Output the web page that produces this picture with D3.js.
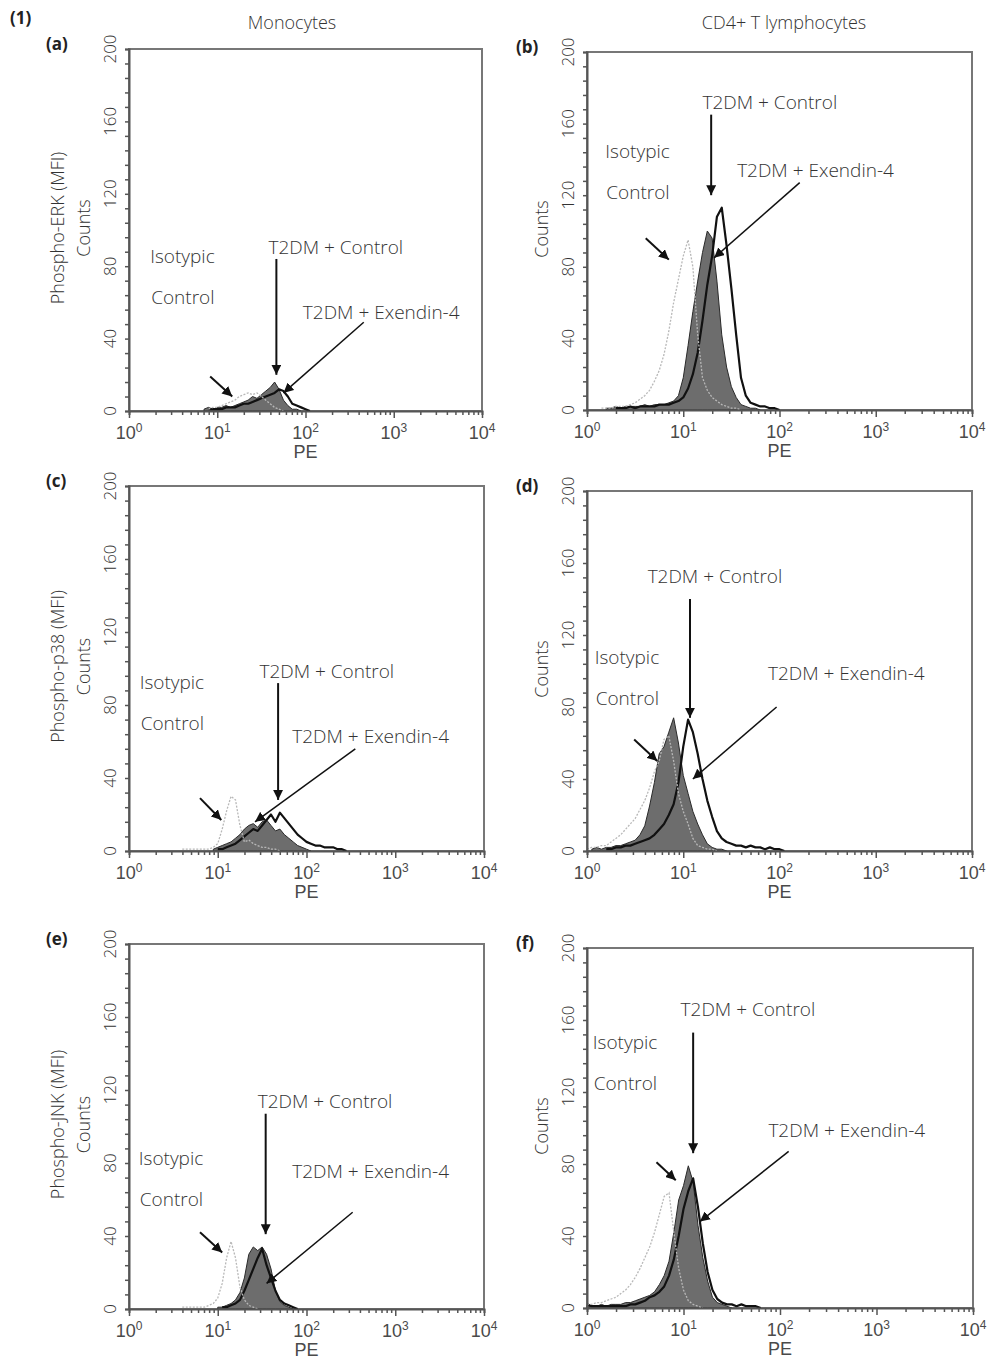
<!DOCTYPE html>
<html>
<head>
<meta charset="utf-8">
<script src="https://cdn.jsdelivr.net/npm/d3@7/dist/d3.min.js"></script>
<style>
  body { margin: 0; background: #fff; }
  text { font-family: "Open Sans", "DejaVu Sans", sans-serif; font-weight: 300; fill: #333; }
  text.bold { font-weight: bold; fill: #222; }
  text.axlab { font-family: "Liberation Sans", Arial, sans-serif; font-weight: normal; fill: #4a4a4a; }
</style>
</head>
<body>
<svg id="chart" width="987" height="1360"></svg>
<script>
// histogram bins are 0.05 decade wide; each series = first bin exponent + counts
const binStep = 0.05;
const decades = [0, 1, 2, 3, 4];
const countLabels = [0, 40, 80, 120, 160, 200];
const columnTitles = ["Monocytes", "CD4+ T lymphocytes"];
const rowTitles = ["Phospho-ERK (MFI)", "Phospho-p38 (MFI)", "Phospho-JNK (MFI)"];
const panelLetters = ["(a)", "(b)", "(c)", "(d)", "(e)", "(f)"];

// (a) monocytes, ERK
const isoA0 = 0.9;
const isoA = [1, 2, 2, 3, 4, 5, 6, 8, 9, 10, 9, 10, 8, 6, 4, 2, 1, 0];
const ctrlA0 = 0.85;
const ctrlA = [1, 2, 1, 2, 2, 3, 2, 3, 4, 5, 6, 8, 7, 9, 11, 13, 16, 12, 6, 3, 1, 1, 0];
const exA0 = 0.9;
const exA = [1, 1, 1, 1, 2, 2, 2, 3, 4, 4, 5, 6, 7, 8, 9, 10, 12, 11, 8, 4, 3, 2, 1, 0];

// (b) CD4+ T, ERK
const isoB0 = 0.15;
const isoB = [1, 1, 1, 2, 2, 2, 3, 4, 6, 8, 11, 16, 22, 31, 44, 60, 73, 86, 95, 80, 42, 18, 11, 7, 5, 3, 2, 1, 1, 0];
const ctrlB0 = 0.2;
const ctrlB = [1, 1, 2, 1, 2, 2, 2, 2, 3, 2, 3, 3, 3, 4, 5, 8, 18, 36, 55, 72, 88, 100, 96, 72, 42, 24, 13, 7, 3, 2, 1, 1, 0];
const exB0 = 0.3;
const exB = [1, 1, 1, 2, 1, 2, 2, 2, 2, 3, 3, 3, 4, 5, 7, 12, 20, 32, 50, 70, 86, 108, 113, 92, 68, 42, 18, 8, 4, 3, 2, 2, 1, 1, 0];

// (c) monocytes, p38
const isoC0 = 0.6;
const isoC = [1, 1, 1, 1, 1, 1, 1, 2, 4, 12, 22, 30, 28, 14, 5, 6, 4, 3, 2, 2, 1, 1, 0];
const ctrlC0 = 0.95;
const ctrlC = [1, 2, 3, 4, 5, 7, 9, 12, 14, 15, 13, 16, 17, 14, 11, 12, 9, 7, 5, 3, 2, 1, 0];
const exC0 = 1.0;
const exC = [1, 1, 2, 3, 4, 6, 8, 10, 12, 11, 14, 17, 20, 16, 21, 18, 15, 12, 9, 7, 5, 4, 3, 3, 2, 2, 2, 1, 1, 0];

// (d) CD4+ T, p38
const isoD0 = 0.0;
const isoD = [1, 2, 2, 3, 3, 5, 7, 9, 12, 15, 18, 23, 28, 35, 44, 50, 62, 64, 50, 32, 22, 15, 7, 3, 2, 1, 1, 0];
const ctrlD0 = 0.05;
const ctrlD = [1, 2, 1, 2, 2, 3, 3, 4, 5, 6, 9, 14, 25, 38, 54, 58, 66, 74, 60, 42, 32, 22, 15, 9, 4, 2, 1, 1, 0];
const exD0 = 0.2;
const exD = [1, 1, 2, 2, 3, 3, 4, 5, 6, 7, 9, 12, 15, 20, 26, 38, 58, 73, 66, 54, 40, 28, 19, 11, 7, 5, 4, 3, 3, 2, 3, 2, 2, 1, 2, 1, 1, 0];

// (e) monocytes, JNK
const isoE0 = 0.6;
const isoE = [1, 1, 1, 1, 1, 1, 2, 3, 6, 14, 28, 37, 28, 12, 5, 2, 1, 0];
const ctrlE0 = 1.0;
const ctrlE = [1, 1, 2, 3, 5, 9, 17, 30, 34, 32, 34, 30, 22, 10, 4, 2, 1, 0];
const exE0 = 1.05;
const exE = [1, 1, 2, 3, 5, 10, 16, 22, 28, 33, 24, 17, 10, 5, 3, 2, 1, 0];

// (f) CD4+ T, JNK
const isoF0 = 0.0;
const isoF = [2, 2, 3, 3, 4, 5, 6, 8, 10, 13, 17, 22, 28, 34, 42, 52, 62, 64, 42, 22, 10, 4, 2, 1, 0];
const ctrlF0 = 0.0;
const ctrlF = [1, 1, 1, 2, 1, 2, 2, 2, 3, 3, 4, 5, 6, 7, 9, 13, 18, 26, 42, 60, 68, 79, 70, 46, 28, 15, 6, 3, 2, 1, 0];
const exF0 = 0.0;
const exF = [2, 1, 1, 1, 1, 1, 1, 1, 1, 2, 2, 3, 4, 6, 7, 9, 12, 18, 27, 40, 55, 65, 72, 56, 36, 20, 10, 5, 3, 2, 2, 1, 2, 1, 1, 1, 0];

// annotation anchors in data space: [log10 PE, count]
const notesA = { iso: [0.24, 82], ctrl: [1.58, 87], ctrlArrow: [[1.67, 84], [1.67, 20]], ex: [1.97, 51], exArrow: [[2.66, 49], [1.75, 10]], isoArrow: [[0.92, 19], [1.17, 8]] };
const notesB = { iso: [0.19, 141], ctrl: [1.20, 168], ctrlArrow: [[1.29, 165], [1.29, 120]], ex: [1.56, 130], exArrow: [[2.21, 127], [1.32, 85]], isoArrow: [[0.61, 96], [0.85, 84]] };
const notesC = { iso: [0.12, 89], ctrl: [1.47, 95], ctrlArrow: [[1.68, 92], [1.68, 28]], ex: [1.84, 59], exArrow: [[2.55, 56], [1.42, 16]], isoArrow: [[0.80, 29], [1.04, 17]] };
const notesD = { iso: [0.08, 104], ctrl: [0.63, 149], ctrlArrow: [[1.07, 140], [1.07, 74]], ex: [1.88, 95], exArrow: [[1.97, 80], [1.10, 40]], isoArrow: [[0.49, 62], [0.73, 50]] };
const notesE = { iso: [0.11, 79], ctrl: [1.45, 110], ctrlArrow: [[1.54, 107], [1.54, 41]], ex: [1.84, 72], exArrow: [[2.52, 53], [1.55, 14]], isoArrow: [[0.80, 42], [1.05, 31]] };
const notesF = { iso: [0.06, 144], ctrl: [0.97, 162], ctrlArrow: [[1.10, 153], [1.10, 86]], ex: [1.88, 95], exArrow: [[2.09, 87], [1.17, 48]], isoArrow: [[0.72, 81], [0.92, 71]] };

const panels = [
  { iso: [isoA0, isoA], ctrl: [ctrlA0, ctrlA], ex: [exA0, exA], notes: notesA, xr: [129, 482], yr: [411, 49], col: 0, row: 0 },
  { iso: [isoB0, isoB], ctrl: [ctrlB0, ctrlB], ex: [exB0, exB], notes: notesB, xr: [587, 972], yr: [410, 52], col: 1, row: 0 },
  { iso: [isoC0, isoC], ctrl: [ctrlC0, ctrlC], ex: [exC0, exC], notes: notesC, xr: [129, 484], yr: [851, 486], col: 0, row: 1 },
  { iso: [isoD0, isoD], ctrl: [ctrlD0, ctrlD], ex: [exD0, exD], notes: notesD, xr: [587, 972], yr: [851, 491], col: 1, row: 1 },
  { iso: [isoE0, isoE], ctrl: [ctrlE0, ctrlE], ex: [exE0, exE], notes: notesE, xr: [129, 484], yr: [1309, 944], col: 0, row: 2 },
  { iso: [isoF0, isoF], ctrl: [ctrlF0, ctrlF], ex: [exF0, exF], notes: notesF, xr: [587, 973], yr: [1308, 948], col: 1, row: 2 }
];

const svg = d3.select("#chart");

const defs = svg.append("defs");
defs.append("marker")
  .attr("id", "head")
  .attr("viewBox", "0 0 10 10")
  .attr("refX", 10).attr("refY", 5)
  .attr("markerWidth", 10).attr("markerHeight", 10)
  .attr("markerUnits", "userSpaceOnUse")
  .attr("orient", "auto")
  .append("path")
  .attr("d", "M0,0 L10,5 L0,10 Z")
  .attr("fill", "#111");

// figure header
svg.append("text").attr("class", "bold").attr("x", 10).attr("y", 24)
  .attr("font-size", 17)
  .text("(1)");
svg.append("text").attr("x", 292).attr("y", 29).attr("text-anchor", "middle")
  .attr("font-size", 18).text(columnTitles[0]);
svg.append("text").attr("x", 784).attr("y", 29).attr("text-anchor", "middle")
  .attr("font-size", 18).text(columnTitles[1]);

const toPoints = (s) => s[1].map((c, i) => ({ e: s[0] + i * binStep, c: c }));

panels.forEach((p, idx) => {
  const g = svg.append("g");
  const x = d3.scaleLog().domain([1, 10000]).range(p.xr);
  const y = d3.scaleLinear().domain([0, 200]).range(p.yr);
  const px = (pt) => x(Math.pow(10, pt[0]));
  const py = (pt) => y(pt[1]);

  // frame (top + right)
  g.append("rect")
    .attr("x", p.xr[0]).attr("y", p.yr[1])
    .attr("width", p.xr[1] - p.xr[0]).attr("height", p.yr[0] - p.yr[1])
    .attr("fill", "none").attr("stroke", "#777").attr("stroke-width", 2);

  // histograms
  const area = d3.area()
    .x(d => x(Math.pow(10, d.e)))
    .y0(y(0))
    .y1(d => y(d.c));
  const line = d3.line()
    .x(d => x(Math.pow(10, d.e)))
    .y(d => y(d.c));

  g.append("path").datum(toPoints(p.ctrl))
    .attr("d", area)
    .attr("fill", "#6d6d6d").attr("stroke", "#2a2a2a").attr("stroke-width", 1);
  g.append("path").datum(toPoints(p.ex))
    .attr("d", line)
    .attr("fill", "none").attr("stroke", "#111").attr("stroke-width", 2.2)
    .attr("stroke-linejoin", "round");
  g.append("path").datum(toPoints(p.iso))
    .attr("d", line)
    .attr("fill", "none").attr("stroke", "#b8b8b8").attr("stroke-width", 1.3)
    .attr("stroke-dasharray", "2,1.5");

  // axes
  const xAxis = d3.axisBottom(x)
    .tickValues(x.ticks())
    .tickSize(4)
    .tickFormat("");
  const xg = g.append("g")
    .attr("transform", `translate(0,${p.yr[0]})`)
    .call(xAxis);
  xg.select(".domain").attr("stroke", "#555").attr("stroke-width", 2);
  xg.selectAll(".tick line").attr("stroke", "#555").attr("stroke-width", 1.5)
    .attr("y2", d => decades.includes(Math.round(Math.log10(d) * 1000) / 1000) ? 7 : 4);

  const yAxis = d3.axisLeft(y)
    .tickValues(d3.range(0, 201, 8))
    .tickSize(4)
    .tickFormat("");
  const yg = g.append("g")
    .attr("transform", `translate(${p.xr[0]},0)`)
    .call(yAxis);
  yg.select(".domain").attr("stroke", "#555").attr("stroke-width", 2);
  yg.selectAll(".tick line").attr("stroke", "#555").attr("stroke-width", 1.5);

  // count labels (rotated)
  g.selectAll(".ylab").data(countLabels).enter()
    .append("text")
    .attr("transform", d => `translate(${p.xr[0] - 13},${y(d)}) rotate(-90)`)
    .attr("text-anchor", "middle")
    .attr("font-size", 17)
    .text(d => d);

  // decade labels 10^n
  const dl = g.selectAll(".xlab").data(decades).enter()
    .append("text")
    .attr("class", "axlab")
    .attr("x", d => x(Math.pow(10, d)))
    .attr("y", p.yr[0] + 28)
    .attr("text-anchor", "middle")
    .attr("font-size", 18);
  dl.append("tspan").text("10");
  dl.append("tspan").attr("dy", -7).attr("font-size", 12).text(d => d);

  g.append("text")
    .attr("class", "axlab")
    .attr("x", x(100)).attr("y", p.yr[0] + 47)
    .attr("text-anchor", "middle").attr("font-size", 18)
    .text("PE");

  // axis titles
  const midY = (p.yr[0] + p.yr[1]) / 2 - 2;
  g.append("text")
    .attr("transform", `translate(${p.xr[0] - 39},${midY}) rotate(-90)`)
    .attr("text-anchor", "middle").attr("font-size", 18)
    .text("Counts");
  if (p.col === 0) {
    g.append("text")
      .attr("transform", `translate(${p.xr[0] - 65},${midY}) rotate(-90)`)
      .attr("text-anchor", "middle").attr("font-size", 18)
      .text(rowTitles[p.row]);
  }

  // panel letter
  g.append("text").attr("class", "bold")
    .attr("x", p.col === 0 ? 46 : 516).attr("y", p.yr[1] + 1)
    .attr("font-size", 17)
    .text(panelLetters[idx]);

  // annotations
  const n = p.notes;
  const iso = g.append("text").attr("font-size", 19);
  iso.append("tspan").attr("x", px(n.iso)).attr("y", py(n.iso)).text("Isotypic");
  iso.append("tspan").attr("x", px(n.iso) + 1).attr("y", py(n.iso) + 41).text("Control");
  g.append("text").attr("x", px(n.ctrl)).attr("y", py(n.ctrl))
    .attr("font-size", 19).text("T2DM + Control");
  g.append("text").attr("x", px(n.ex)).attr("y", py(n.ex))
    .attr("font-size", 19).text("T2DM + Exendin-4");

  const arrow = (pts, w) => g.append("line")
    .attr("x1", px(pts[0])).attr("y1", py(pts[0]))
    .attr("x2", px(pts[1])).attr("y2", py(pts[1]))
    .attr("stroke", "#111").attr("stroke-width", w)
    .attr("marker-end", "url(#head)");
  arrow(n.ctrlArrow, 2);
  arrow(n.exArrow, 1.5);
  arrow(n.isoArrow, 2);
});
</script>
</body>
</html>
